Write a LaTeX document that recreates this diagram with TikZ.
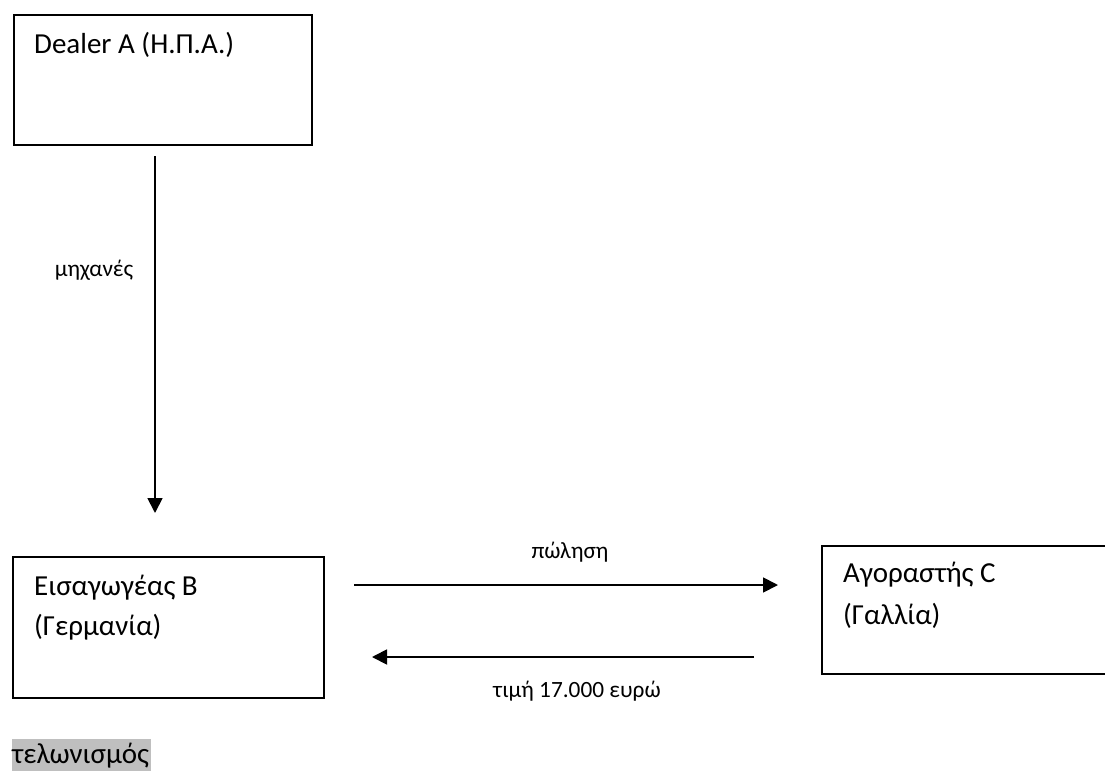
\documentclass[tikz,border=0pt]{standalone}
\usepackage{fontspec}
\setmainfont{Carlito}
\usetikzlibrary{arrows.meta}
\definecolor{hlgray}{HTML}{BFBFBF}
\tikzset{
  box/.style={draw=black, line width=1.6pt, inner sep=0pt, anchor=north west},
  big/.style={font=\fontsize{29}{34}\selectfont, inner sep=0pt, anchor=base west},
  small/.style={font=\fontsize{23.3}{28}\selectfont, inner sep=0pt, anchor=base},
  arr/.style={line width=1.8pt, -{Triangle[length=15pt,width=15pt]}}
}
\begin{document}
\begin{tikzpicture}[x=1pt,y=-1pt]
\clip (0,0) rectangle (1105,771);
\fill[white] (0,0) rectangle (1105,771);
% boxes
\node[box, minimum width=298pt, minimum height=130pt] (A) at (13,14) {};
\node[box, minimum width=311pt, minimum height=141pt] (B) at (12,556) {};
\node[box, minimum width=300pt, minimum height=128pt] (C) at (821,545) {};
% box texts
\node[big] (At) at (34,53) {Dealer A (Η.Π.Α.)};
\node[big] (Bt1) at (34,595) {Εισαγωγέας Β};
\node[big] (Bt2) at (34,635) {(Γερμανία)};
\node[big] (Ct1) at (843,582) {Αγοραστής C};
\node[big] (Ct2) at (843,624) {(Γαλλία)};
% arrows
\coordinate (v1) at (155,156);
\coordinate (v2) at (155,513);
\coordinate (h1) at (354,585);
\coordinate (h2) at (778,585);
\coordinate (g1) at (754,657);
\coordinate (g2) at (372,657);
\draw[arr] (v1) -- (v2);
\draw[arr] (h1) -- (h2);
\draw[arr] (g1) -- (g2);
% labels
\node[small] (lm) at (94,276) {μηχανές};
\node[small] (lp) at (570,558) {πώληση};
\node[small] (lt) at (577,697) {τιμή 17.000 ευρώ};
% customs
\fill[hlgray] (12,739) rectangle (151,771);
\node[big] (tel) at (12,763) {τελωνισμός};
\end{tikzpicture}
\end{document}
